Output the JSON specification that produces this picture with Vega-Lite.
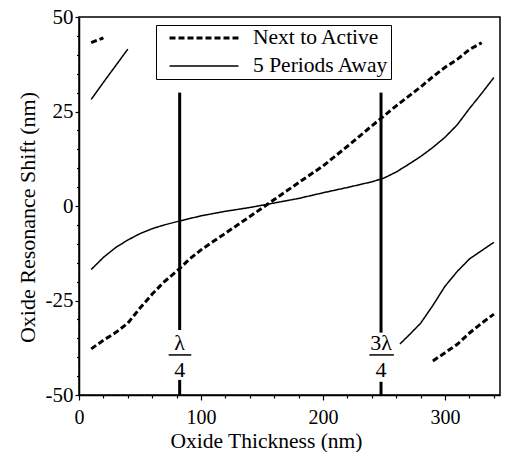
{
  "$schema": "https://vega.github.io/schema/vega-lite/v6.json",
  "width": 421,
  "height": 378,
  "autosize": "none",
  "padding": {"left": 79, "top": 17, "right": 5, "bottom": 57},
  "background": "white",
  "config": {
    "font": "Liberation Serif",
    "view": {"stroke": "black", "strokeWidth": 1.5},
    "axis": {"grid": false, "domainColor": "black", "domainWidth": 1.5, "tickColor": "black", "tickWidth": 1.2, "labelColor": "black", "titleColor": "black", "labelFont": "Liberation Serif", "titleFont": "Liberation Serif", "labelFontSize": 21, "titleFontSize": 22, "titleFontWeight": "normal"},
    "legend": {"labelFont": "Liberation Serif", "labelFontSize": 21.5, "labelColor": "black"}
  },
  "resolve": {"axis": {"x": "independent", "y": "independent"}},
  "datasets": {
    "curves": [
      {"series": "Next to Active", "seg": "a", "x": 10, "y": -37.8},
      {"series": "Next to Active", "seg": "a", "x": 20, "y": -35.5},
      {"series": "Next to Active", "seg": "a", "x": 30, "y": -33.5},
      {"series": "Next to Active", "seg": "a", "x": 40, "y": -31},
      {"series": "Next to Active", "seg": "a", "x": 50, "y": -27},
      {"series": "Next to Active", "seg": "a", "x": 60, "y": -23.3},
      {"series": "Next to Active", "seg": "a", "x": 70, "y": -20},
      {"series": "Next to Active", "seg": "a", "x": 82, "y": -16.7},
      {"series": "Next to Active", "seg": "a", "x": 90, "y": -14.2},
      {"series": "Next to Active", "seg": "a", "x": 100, "y": -11.6},
      {"series": "Next to Active", "seg": "a", "x": 120, "y": -7.2},
      {"series": "Next to Active", "seg": "a", "x": 140, "y": -2.8},
      {"series": "Next to Active", "seg": "a", "x": 160, "y": 1.7},
      {"series": "Next to Active", "seg": "a", "x": 180, "y": 6.2},
      {"series": "Next to Active", "seg": "a", "x": 200, "y": 10.6},
      {"series": "Next to Active", "seg": "a", "x": 220, "y": 15.8},
      {"series": "Next to Active", "seg": "a", "x": 240, "y": 21.2},
      {"series": "Next to Active", "seg": "a", "x": 260, "y": 26.5},
      {"series": "Next to Active", "seg": "a", "x": 280, "y": 31.5},
      {"series": "Next to Active", "seg": "a", "x": 290, "y": 34.2},
      {"series": "Next to Active", "seg": "a", "x": 300, "y": 36.7},
      {"series": "Next to Active", "seg": "a", "x": 310, "y": 38.8},
      {"series": "Next to Active", "seg": "a", "x": 320, "y": 41.4},
      {"series": "Next to Active", "seg": "a", "x": 330, "y": 43.2},
      {"series": "Next to Active", "seg": "b", "x": 10, "y": 43.2},
      {"series": "Next to Active", "seg": "b", "x": 20, "y": 44.5},
      {"series": "Next to Active", "seg": "c", "x": 290, "y": -41},
      {"series": "Next to Active", "seg": "c", "x": 300, "y": -38.8},
      {"series": "Next to Active", "seg": "c", "x": 310, "y": -36.6},
      {"series": "Next to Active", "seg": "c", "x": 320, "y": -33.6},
      {"series": "Next to Active", "seg": "c", "x": 330, "y": -31},
      {"series": "Next to Active", "seg": "c", "x": 340, "y": -28.6},
      {"series": "5 Periods Away", "seg": "a", "x": 10, "y": -16.8},
      {"series": "5 Periods Away", "seg": "a", "x": 20, "y": -13.6},
      {"series": "5 Periods Away", "seg": "a", "x": 30, "y": -11},
      {"series": "5 Periods Away", "seg": "a", "x": 40, "y": -9},
      {"series": "5 Periods Away", "seg": "a", "x": 50, "y": -7.3},
      {"series": "5 Periods Away", "seg": "a", "x": 60, "y": -6},
      {"series": "5 Periods Away", "seg": "a", "x": 70, "y": -5},
      {"series": "5 Periods Away", "seg": "a", "x": 82, "y": -4},
      {"series": "5 Periods Away", "seg": "a", "x": 100, "y": -2.6},
      {"series": "5 Periods Away", "seg": "a", "x": 120, "y": -1.4},
      {"series": "5 Periods Away", "seg": "a", "x": 140, "y": -0.4},
      {"series": "5 Periods Away", "seg": "a", "x": 155, "y": 0.5},
      {"series": "5 Periods Away", "seg": "a", "x": 170, "y": 1.4},
      {"series": "5 Periods Away", "seg": "a", "x": 180, "y": 2},
      {"series": "5 Periods Away", "seg": "a", "x": 200, "y": 3.5},
      {"series": "5 Periods Away", "seg": "a", "x": 220, "y": 4.9},
      {"series": "5 Periods Away", "seg": "a", "x": 240, "y": 6.4},
      {"series": "5 Periods Away", "seg": "a", "x": 250, "y": 7.4},
      {"series": "5 Periods Away", "seg": "a", "x": 260, "y": 9},
      {"series": "5 Periods Away", "seg": "a", "x": 270, "y": 11},
      {"series": "5 Periods Away", "seg": "a", "x": 280, "y": 13.1},
      {"series": "5 Periods Away", "seg": "a", "x": 290, "y": 15.5},
      {"series": "5 Periods Away", "seg": "a", "x": 300, "y": 18.2},
      {"series": "5 Periods Away", "seg": "a", "x": 310, "y": 21.5},
      {"series": "5 Periods Away", "seg": "a", "x": 320, "y": 25.8},
      {"series": "5 Periods Away", "seg": "a", "x": 330, "y": 29.8},
      {"series": "5 Periods Away", "seg": "a", "x": 340, "y": 34},
      {"series": "5 Periods Away", "seg": "b", "x": 10, "y": 28.2},
      {"series": "5 Periods Away", "seg": "b", "x": 20, "y": 32.7},
      {"series": "5 Periods Away", "seg": "b", "x": 30, "y": 37.1},
      {"series": "5 Periods Away", "seg": "b", "x": 40, "y": 41.5},
      {"series": "5 Periods Away", "seg": "c", "x": 263, "y": -36.5},
      {"series": "5 Periods Away", "seg": "c", "x": 270, "y": -34.3},
      {"series": "5 Periods Away", "seg": "c", "x": 280, "y": -31},
      {"series": "5 Periods Away", "seg": "c", "x": 290, "y": -26.3},
      {"series": "5 Periods Away", "seg": "c", "x": 300, "y": -21.2},
      {"series": "5 Periods Away", "seg": "c", "x": 310, "y": -17.3},
      {"series": "5 Periods Away", "seg": "c", "x": 320, "y": -14},
      {"series": "5 Periods Away", "seg": "c", "x": 330, "y": -11.8},
      {"series": "5 Periods Away", "seg": "c", "x": 340, "y": -9.6}
    ],
    "markers": [
      {"x": 82.5, "y": 30, "y2": -32.8},
      {"x": 82.5, "y": -46, "y2": -50},
      {"x": 247.5, "y": 30, "y2": -33.5},
      {"x": 247.5, "y": -46.5, "y2": -50}
    ],
    "bars": [
      {"x": 73.5, "x2": 92, "y": -39.4},
      {"x": 238, "x2": 258, "y": -39.4}
    ],
    "labels": [
      {"x": 82.5, "y": -36.2, "t": "λ"},
      {"x": 82.5, "y": -43.4, "t": "4"},
      {"x": 247.5, "y": -36.2, "t": "3λ"},
      {"x": 247.5, "y": -43.4, "t": "4"}
    ]
  },
  "layer": [
    {
      "data": {"name": "curves"},
      "mark": {"type": "line", "color": "black", "clip": true},
      "encoding": {
        "x": {"field": "x", "type": "quantitative", "scale": {"domain": [0, 345], "nice": false, "zero": false},
          "axis": {"orient": "bottom", "title": "Oxide Thickness (nm)", "values": [0, 100, 200, 300],
            "labelExpr": "toString(datum.value)", "labelFlush": false, "labelFontSize": 20,
            "tickSize": 5, "labelPadding": 7, "titleFontSize": 21.5, "titleX": 187, "titleY": 52, "titleBaseline": "alphabetic"}},
        "y": {"field": "y", "type": "quantitative", "scale": {"domain": [-50, 50], "nice": false},
          "axis": {"orient": "left", "title": "Oxide Resonance Shift (nm)", "values": [-50, -25, 0, 25, 50],
            "labelExpr": "toString(datum.value)", "labelFlush": false,
            "tickSize": 4, "labelPadding": 2, "titlePadding": 6, "titleY": 200}},
        "detail": {"field": "seg"},
        "strokeDash": {"field": "series", "type": "nominal",
          "scale": {"domain": ["Next to Active", "5 Periods Away"], "range": [[6, 3], [1, 0]]},
          "legend": {"title": null, "orient": "none", "legendX": 77, "legendY": 8,
            "strokeColor": "black", "padding": 2, "symbolType": "stroke", "symbolSize": 4761,
            "symbolStrokeColor": "black", "symbolStrokeWidth": 2.2, "clipHeight": 22, "rowPadding": 6,
            "symbolOffset": 10, "labelOffset": 13, "fillColor": "white", "labelFont": "Liberation Serif", "labelFontSize": 21.5}},
        "strokeWidth": {"field": "series", "type": "nominal",
          "scale": {"domain": ["Next to Active", "5 Periods Away"], "range": [3, 1.5]}, "legend": null}
      }
    },
    {
      "data": {"name": "markers"},
      "mark": {"type": "rule", "color": "black", "strokeWidth": 3},
      "encoding": {
        "x": {"field": "x", "type": "quantitative",
          "axis": {"orient": "bottom", "title": null, "labels": false, "domain": false, "tickSize": 3,
            "values": [20, 40, 60, 80, 120, 140, 160, 180, 220, 240, 260, 280, 320, 340]}},
        "y": {"field": "y", "type": "quantitative",
          "axis": {"orient": "left", "title": null, "labels": false, "domain": false, "tickSize": 2.5,
            "values": [-45, -40, -35, -30, -20, -15, -10, -5, 5, 10, 15, 20, 30, 35, 40, 45]}},
        "y2": {"field": "y2"}
      }
    },
    {
      "data": {"name": "bars"},
      "mark": {"type": "rule", "color": "black", "strokeWidth": 1.5},
      "encoding": {
        "x": {"field": "x", "type": "quantitative", "axis": null},
        "x2": {"field": "x2"},
        "y": {"field": "y", "type": "quantitative", "axis": null}
      }
    },
    {
      "data": {"name": "labels"},
      "mark": {"type": "text", "color": "black", "fontSize": 22, "font": "Liberation Serif", "baseline": "middle", "align": "center"},
      "encoding": {
        "x": {"field": "x", "type": "quantitative", "axis": null},
        "y": {"field": "y", "type": "quantitative", "axis": null},
        "text": {"field": "t"}
      }
    }
  ]
}
